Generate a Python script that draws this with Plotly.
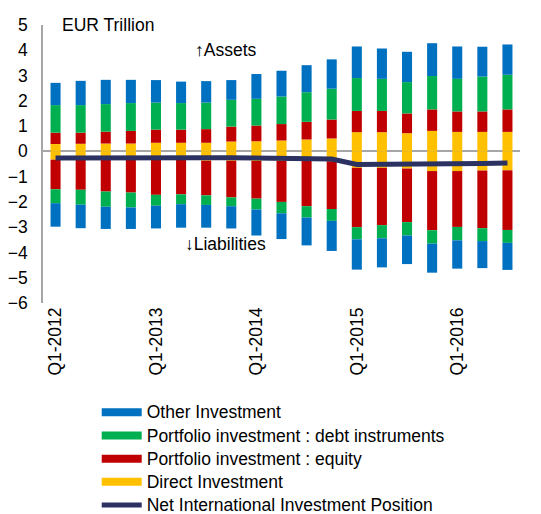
import plotly.graph_objects as go

quarters = ["Q1-2012", "Q2-2012", "Q3-2012", "Q4-2012",
            "Q1-2013", "Q2-2013", "Q3-2013", "Q4-2013",
            "Q1-2014", "Q2-2014", "Q3-2014", "Q4-2014",
            "Q1-2015", "Q2-2015", "Q3-2015", "Q4-2015",
            "Q1-2016", "Q2-2016", "Q3-2016"]
tick_labels = ["Q1-2012", "Q1-2013", "Q1-2014", "Q1-2015", "Q1-2016"]

# Assets (EUR trillion)
assets_direct = [0.29, 0.30, 0.31, 0.31, 0.34, 0.34, 0.34, 0.39, 0.40, 0.43, 0.47, 0.51, 0.76, 0.76, 0.72, 0.81, 0.77, 0.77, 0.77]
assets_equity = [0.45, 0.44, 0.47, 0.50, 0.52, 0.52, 0.54, 0.59, 0.62, 0.65, 0.70, 0.75, 0.84, 0.84, 0.78, 0.85, 0.81, 0.81, 0.89]
assets_debt = [1.09, 1.09, 1.09, 1.10, 1.07, 1.05, 1.05, 1.06, 1.06, 1.09, 1.17, 1.22, 1.30, 1.27, 1.24, 1.32, 1.29, 1.38, 1.37]
assets_other = [0.88, 0.96, 0.96, 0.92, 0.89, 0.85, 0.85, 0.78, 0.98, 1.02, 1.07, 1.16, 1.25, 1.20, 1.20, 1.30, 1.28, 1.18, 1.20]

# Liabilities (EUR trillion, negative)
liab_direct = [-0.33, -0.33, -0.33, -0.33, -0.33, -0.33, -0.37, -0.37, -0.38, -0.38, -0.38, -0.39, -0.65, -0.65, -0.68, -0.78, -0.78, -0.76, -0.75]
liab_equity = [-1.17, -1.19, -1.26, -1.30, -1.39, -1.37, -1.37, -1.45, -1.49, -1.62, -1.79, -1.89, -2.35, -2.27, -2.12, -2.34, -2.21, -2.28, -2.36]
liab_debt = [-0.55, -0.59, -0.60, -0.59, -0.43, -0.39, -0.38, -0.35, -0.43, -0.45, -0.45, -0.47, -0.48, -0.52, -0.53, -0.53, -0.53, -0.51, -0.51]
liab_other = [-0.93, -0.93, -0.88, -0.85, -0.90, -0.93, -0.90, -0.88, -1.03, -1.02, -1.10, -1.19, -1.20, -1.15, -1.13, -1.15, -1.12, -1.07, -1.07]

# Net International Investment Position
niip = [-0.26, -0.25, -0.25, -0.25, -0.25, -0.25, -0.25, -0.25, -0.27, -0.28, -0.29, -0.30, -0.52, -0.52, -0.51, -0.51, -0.50, -0.48, -0.46]

C_OTHER = "#0070C0"
C_DEBT = "#00B050"
C_EQUITY = "#C00000"
C_DIRECT = "#FFC000"
C_NIIP = "#2B3161"

series_names = ["Other Investment", "Portfolio investment : debt instruments",
                "Portfolio investment : equity", "Direct Investment"]
series_colors = [C_OTHER, C_DEBT, C_EQUITY, C_DIRECT]

FS = 17.5


def big(t):
    return '<span style="font-size:%gpx">%s</span>' % (FS, t)


fig = go.Figure()

for vals, col in [(assets_direct, C_DIRECT), (assets_equity, C_EQUITY), (assets_debt, C_DEBT), (assets_other, C_OTHER),
                  (liab_direct, C_DIRECT), (liab_equity, C_EQUITY), (liab_debt, C_DEBT), (liab_other, C_OTHER)]:
    fig.add_trace(go.Bar(x=quarters, y=vals, marker=dict(color=col, line=dict(width=0)),
                         showlegend=False))

fig.add_trace(go.Scatter(x=quarters, y=niip, mode="lines",
                         line=dict(color=C_NIIP, width=5), showlegend=False))

# legend entries
for name, col in zip(series_names, series_colors):
    fig.add_trace(go.Scatter(x=[None], y=[None], mode="lines", name=big(name),
                             line=dict(color=col, width=8)))
fig.add_trace(go.Scatter(x=[None], y=[None], mode="lines",
                         name=big("Net International Investment Position"),
                         line=dict(color=C_NIIP, width=5)))

fig.update_layout(
    width=533, height=524,
    margin=dict(l=35, r=21, t=17, b=229, autoexpand=False),
    barmode="relative", bargap=0.6,
    plot_bgcolor="white", paper_bgcolor="white",
    font=dict(family="Liberation Sans, Arial, sans-serif", size=FS, color="black"),
    xaxis=dict(type="category", tickvals=tick_labels, ticktext=tick_labels, tickangle=-90,
               showline=False, showgrid=False, ticks="", tickfont=dict(size=FS)),
    yaxis=dict(range=[-6, 5], tickvals=list(range(-6, 6)), showgrid=False,
               showline=True, linecolor="#A6A6A6", linewidth=1.5,
               zeroline=True, zerolinecolor="#A6A6A6", zerolinewidth=1.5,
               ticks="", tickfont=dict(size=FS), layer="above traces",
               ticklabelstandoff=10),
    legend=dict(x=0.1126, y=-0.787, xanchor="left", yanchor="bottom", traceorder="normal",
                font=dict(size=15.5), bgcolor="rgba(0,0,0,0)", tracegroupgap=0,
                itemwidth=40),
    showlegend=True,
    annotations=[
        dict(text="EUR Trillion", xref="paper", yref="paper", x=0.035, y=1.0, xanchor="left",
             yanchor="middle", showarrow=False, font=dict(size=FS)),
        dict(text="↑Assets", xref="paper", yref="paper", x=0.315, y=0.91, xanchor="left",
             yanchor="middle", showarrow=False, font=dict(size=FS)),
        dict(text="↓Liabilities", xref="paper", yref="paper", x=0.293, y=0.212, xanchor="left",
             yanchor="middle", showarrow=False, font=dict(size=FS)),
    ],
)

fig.write_html("out.html")
